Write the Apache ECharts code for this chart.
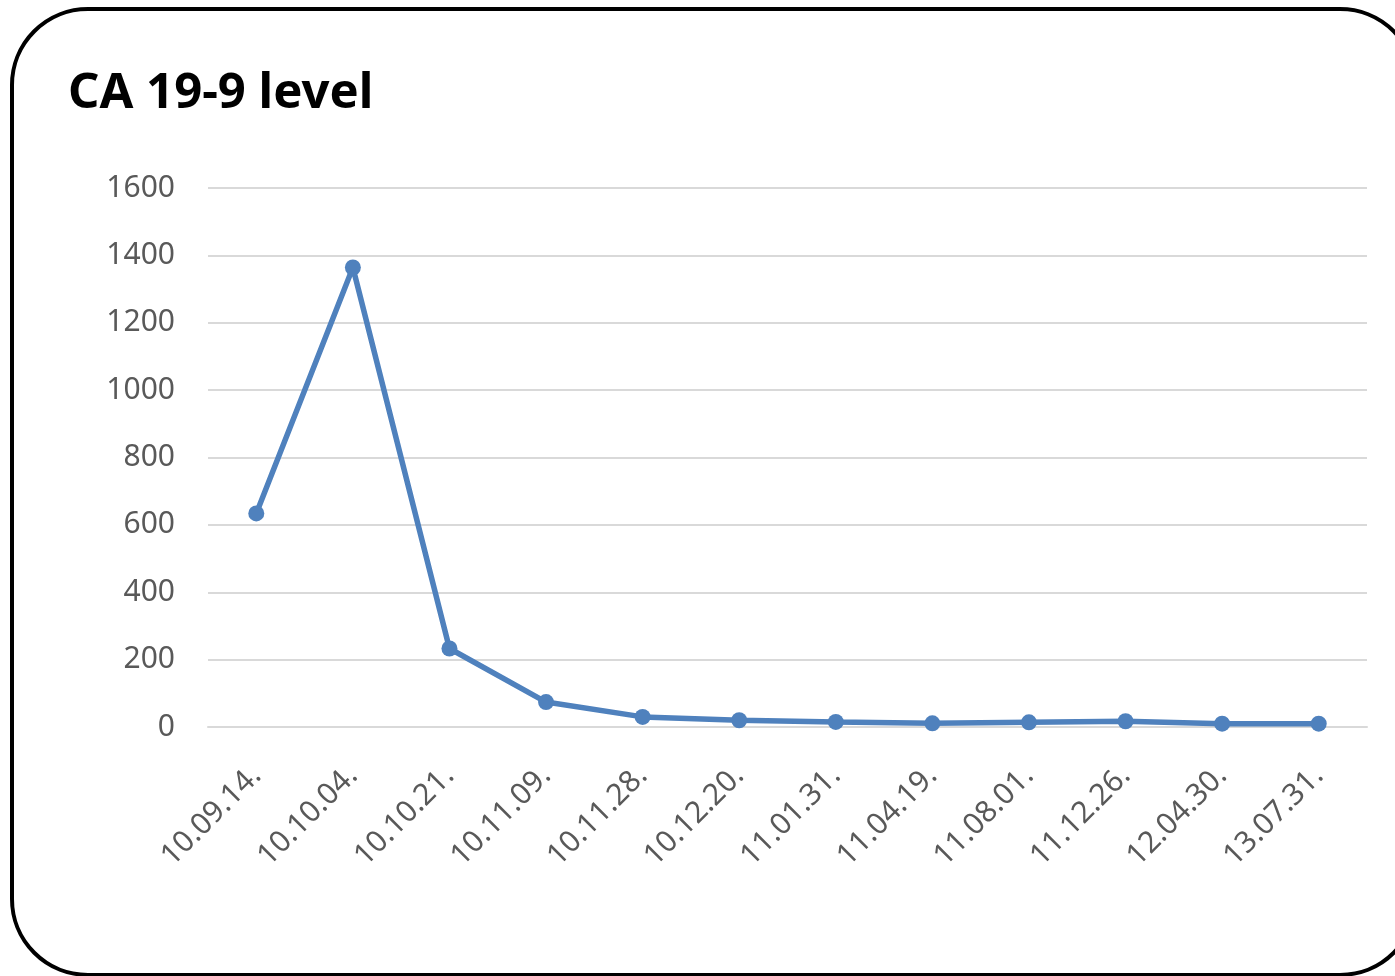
<!DOCTYPE html>
<html>
<head>
<meta charset="utf-8">
<script src="https://cdn.jsdelivr.net/npm/echarts@6/dist/echarts.min.js"></script>
<style>
html,body{margin:0;padding:0;background:#fff;overflow:hidden;}
#frame{position:absolute;left:10px;top:7px;width:1400px;height:962px;border:4px solid #000;border-radius:78px;}
#chart{position:absolute;left:0;top:0;width:1395px;height:976px;}
</style>
</head>
<body>
<div id="frame"></div>
<div id="chart"></div>
<script>
const categories = ['10.09.14.','10.10.04.','10.10.21.','10.11.09.','10.11.28.','10.12.20.','11.01.31.','11.04.19.','11.08.01.','11.12.26.','12.04.30.','13.07.31.'];
const values = [634, 1364, 233, 74, 30, 20, 15, 11, 14, 17, 10, 10];
const yTicks = {min: 0, max: 1600, interval: 200};
const titleText = 'CA 19-9 level';

const chart = echarts.init(document.getElementById('chart'));
chart.setOption({
  backgroundColor: 'transparent',
  animation: false,
  title: {
    text: titleText,
    left: 63,
    top: 65,
    textStyle: {fontFamily: 'Noto Sans', fontWeight: 'bold', fontSize: 49, color: '#000'}
  },
  grid: {left: 208, right: 28, top: 188, bottom: 249, containLabel: false},
  xAxis: {
    type: 'category',
    data: categories,
    boundaryGap: true,
    axisLine: {lineStyle: {color: '#d9d9d9', width: 2}},
    axisTick: {show: false},
    axisLabel: {rotate: 45, margin: 44, fontFamily: 'Noto Sans', fontSize: 30, color: '#595959', interval: 0}
  },
  yAxis: {
    type: 'value',
    min: yTicks.min, max: yTicks.max, interval: yTicks.interval,
    axisLine: {show: false},
    axisTick: {show: false},
    splitLine: {lineStyle: {color: '#d9d9d9', width: 2}},
    axisLabel: {margin: 33, fontFamily: 'Noto Sans', fontSize: 30, color: '#595959', formatter: v => String(v)}
  },
  series: [{
    type: 'line',
    data: values,
    symbol: 'circle',
    symbolSize: 16,
    lineStyle: {color: '#4f81bd', width: 5.5},
    itemStyle: {color: '#4f81bd'}
  }]
});
</script>
</body>
</html>
